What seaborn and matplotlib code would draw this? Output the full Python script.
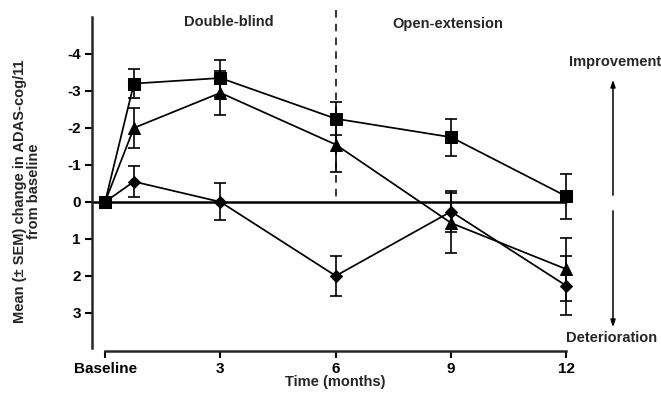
import pandas as pd
import seaborn as sns
import matplotlib.pyplot as plt

# time points (months); 0 = baseline
months = [0, 0.75, 3, 6, 9, 12]
tick_months = [0, 3, 6, 9, 12]
tick_labels = ["Baseline", "3", "6", "9", "12"]

square_mean = [0, -3.2, -3.35, -2.25, -1.75, -0.15]
square_sem = [0, 0.4, 0.5, 0.45, 0.5, 0.6]
triangle_mean = [0, -2.0, -2.95, -1.55, 0.57, 1.82]
triangle_sem = [0, 0.55, 0.6, 0.75, 0.8, 0.85]
diamond_mean = [0, -0.55, 0.0, 2.0, 0.26, 2.27]
diamond_sem = [0, 0.42, 0.5, 0.55, 0.55, 0.8]

y_ticks = [-4, -3, -2, -1, 0, 1, 2, 3]


def make_plot():
    sns.set_theme(style="ticks")
    plt.rcParams['font.family'] = ['Liberation Sans', 'DejaVu Sans']
    plt.rcParams['font.weight'] = 'bold'
    plt.rcParams['axes.unicode_minus'] = False

    fig = plt.figure(figsize=(6.61, 3.96), dpi=100)
    ax = fig.add_axes([92 / 661, 1 - 348 / 396, 569 / 661, 331 / 396])

    series = [
        (square_mean, square_sem, 's', 8),
        (triangle_mean, triangle_sem, '^', 9),
        (diamond_mean, diamond_sem, 'D', 6.5),
    ]
    for mean, sem, marker, size in series:
        df = pd.DataFrame({'month': months, 'change': mean})
        ax.errorbar(months, mean, yerr=sem, fmt='none', ecolor='black',
                    elinewidth=1.2, capsize=4, capthick=1.2, zorder=2)
        sns.lineplot(data=df, x='month', y='change', ax=ax, color='black',
                     marker=marker, markersize=size, markeredgecolor='black',
                     linewidth=1.25, zorder=3)

    # zero reference line
    ax.plot([-0.34, 12], [0, 0], color='black', linewidth=1.8, zorder=1)
    # phase separator
    ax.plot([6, 6], [-5.2, 0], color='black', linewidth=1.1,
            linestyle=(0, (5, 4)), clip_on=False, zorder=1)

    ax.set_xlim(-0.34, 14.46)
    ax.set_ylim(3.95, -5)
    ax.set_yticks(y_ticks)
    ax.set_yticklabels([str(v) for v in y_ticks], fontsize=11, fontweight='bold')
    ax.set_xticks(tick_months)
    ax.set_xticklabels(tick_labels, fontsize=10.5, fontweight='bold')
    ax.set_xlabel('')
    ax.set_ylabel('')

    for side in ['top', 'right']:
        ax.spines[side].set_visible(False)
    ax.spines['left'].set_linewidth(1.8)
    ax.spines['bottom'].set_linewidth(1.8)
    ax.spines['bottom'].set_bounds(0, 12)
    ax.spines['bottom'].set_position(('outward', 2))
    ax.tick_params(axis='both', direction='out', length=5, width=1.5,
                   color='black', labelcolor='black', pad=3)

    fig.text(229 / 661, 1 - 22 / 396, 'Double-blind', ha='center', va='center',
             fontsize=10.5, fontweight='bold')
    fig.text(448 / 661, 1 - 24 / 396, 'Open-extension', ha='center', va='center',
             fontsize=10.5, fontweight='bold')
    fig.text(615 / 661, 1 - 62 / 396, 'Improvement', ha='center', va='center',
             fontsize=10.5, fontweight='bold')
    fig.text(612 / 661, 1 - 338 / 396, 'Deterioration', ha='center', va='center',
             fontsize=10.5, fontweight='bold')
    fig.text(335 / 661, 1 - 382 / 396, 'Time (months)', ha='center', va='center',
             fontsize=10.5, fontweight='bold')
    fig.text(27 / 661, 1 - 191 / 396,
             'Mean (\u00b1 SEM) change in ADAS-cog/11\nfrom baseline',
             ha='center', va='center', rotation=90, fontsize=10.5,
             fontweight='bold', multialignment='center', linespacing=1.0)

    # improvement / deterioration arrows
    arrow_x = 613 / 661
    style = dict(arrowstyle='-|>,head_length=0.35,head_width=0.12',
                 color='black', lw=1.1)
    ax.annotate('', xy=(arrow_x, 1 - 77 / 396), xytext=(arrow_x, 1 - 198 / 396),
                xycoords='figure fraction', textcoords='figure fraction',
                arrowprops=style)
    ax.annotate('', xy=(arrow_x, 1 - 330 / 396), xytext=(arrow_x, 1 - 208 / 396),
                xycoords='figure fraction', textcoords='figure fraction',
                arrowprops=style)

    plt.savefig('out.png', dpi=100)


if __name__ == '__main__':
    make_plot()
